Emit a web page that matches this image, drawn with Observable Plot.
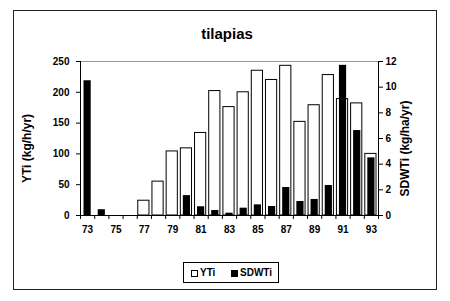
<!DOCTYPE html>
<html>
<head>
<meta charset="utf-8">
<script src="https://cdn.jsdelivr.net/npm/d3@7"></script>
<script src="https://cdn.jsdelivr.net/npm/@observablehq/plot@0.6"></script>
<style>
  body { margin: 0; background: white; }
  #wrap { position: relative; width: 450px; height: 301px; font-family: "Liberation Sans", Arial, sans-serif; font-weight: bold; color: black; }
  #wrap svg { position: absolute; left: 0; top: 0; }
  .frame { position: absolute; left: 13px; top: 10px; width: 424px; height: 280px; border: 1px solid #222; box-sizing: border-box; }
  .title { position: absolute; left: 2px; top: 25px; width: 450px; text-align: center; font-size: 15px; }
  .legend { position: absolute; left: 183px; top: 262px; width: 96px; height: 21px; border: 1px solid black; box-sizing: border-box; font-size: 10px; }
  .sw { position: absolute; top: 7px; width: 7px; height: 7px; border: 1px solid black; box-sizing: border-box; }
  .lt { position: absolute; top: 4px; line-height: 11px; }
</style>
</head>
<body>
<div id="wrap">
  <div class="frame"></div>
  <div class="title">tilapias</div>
  <div class="legend">
    <div class="sw" style="left:7px;background:white"></div><div class="lt" style="left:16px">YTi</div>
    <div class="sw" style="left:47px;background:black"></div><div class="lt" style="left:56px">SDWTi</div>
  </div>
</div>
<script>
const years = [73,74,75,76,77,78,79,80,81,82,83,84,85,86,87,88,89,90,91,92,93];
const yti = [0,0,0,0,24,55,104,109,134,202,176,200,235,220,243,152,179,228,189,182,100];
const sdwti = [10.5,0.45,0,0,0,0,0,1.55,0.68,0.39,0.18,0.57,0.83,0.70,2.18,1.09,1.25,2.34,11.7,6.62,4.49];
const xTickLabels = [73,75,77,79,81,83,85,87,89,91,93];
const leftTicks = [0,50,100,150,200,250];
const rightTicks = [0,2,4,6,8,10,12];

const data = years.map((year, i) => ({year, yti: yti[i], sdwti: sdwti[i]}));
const k = 250 / 12;
const boundaries = years.map(y => y - 0.5).concat([years[years.length - 1] + 0.5]);

const chart = Plot.plot({
  width: 450, height: 301,
  marginTop: 61, marginBottom: 86, marginLeft: 80, marginRight: 72,
  style: {fontFamily: "'Liberation Sans', Arial, sans-serif", fontSize: "10px", fontWeight: "bold", background: "transparent", color: "black"},
  x: {domain: [72.5, 93.5]},
  y: {domain: [0, 250]},
  marks: [
    Plot.ruleY([250], {stroke: "#999"}),
    Plot.rectY(data.filter(d => d.yti > 0), {x1: d => d.year - 0.5, x2: d => d.year + 0.5, y: "yti", fill: "white", stroke: "black", insetLeft: 1, insetRight: 2}),
    Plot.rectY(data.filter(d => d.sdwti > 0), {x1: d => d.year - 0.5, x2: d => d.year + 0.5, y: d => d.sdwti * k, fill: "black", insetLeft: 3.5, insetRight: 3.5}),
    Plot.ruleX([72.5, 93.5], {stroke: "black"}),
    Plot.ruleY([0], {stroke: "black"}),
    Plot.axisY({ticks: leftTicks, tickSize: 4, tickPadding: 7, label: null}),
    Plot.axisY({anchor: "right", ticks: rightTicks.map(v => v * k), tickFormat: v => String(Math.round(v / k)), tickSize: 4, tickPadding: 3, label: null}),
    Plot.axisX({ticks: boundaries, tickSize: 4, tickFormat: () => "", label: null}),
    Plot.axisX({ticks: xTickLabels, tickSize: 0, tickPadding: 10, label: null}),
    Plot.text(["YTi (kg/h/yr)"], {frameAnchor: "left", textAnchor: "middle", dx: -53, dy: 10, rotate: -90, fontSize: 12}),
    Plot.text(["SDWTi (kg/ha/yr)"], {frameAnchor: "right", textAnchor: "middle", dx: 27, dy: 10, rotate: -90, fontSize: 12})
  ]
});
document.getElementById("wrap").appendChild(chart);
</script>
</body>
</html>
